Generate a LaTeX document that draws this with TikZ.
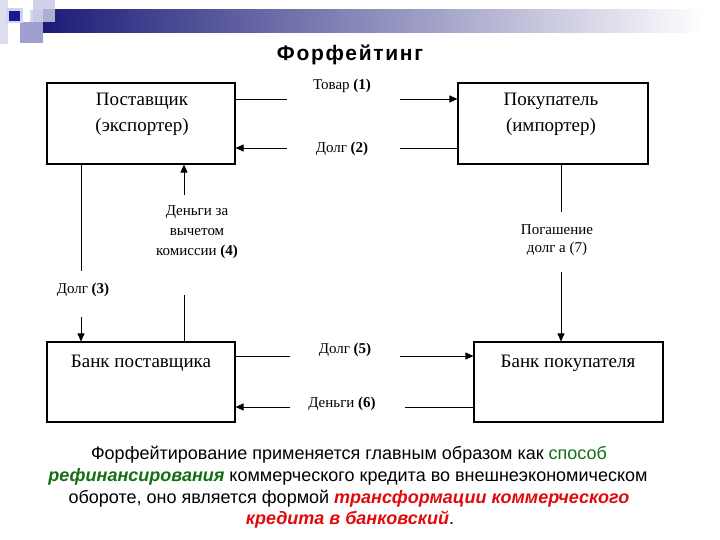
\documentclass[tikz,border=0pt]{standalone}
\usepackage{fontspec}
\setmainfont{Liberation Serif}
\newfontfamily\arialf{Liberation Sans}
\newfontfamily\arialt[LetterSpace=8]{Liberation Sans}
\usetikzlibrary{arrows.meta}
\definecolor{navy}{RGB}{28,28,120}
\definecolor{lav}{RGB}{200,200,230}
\definecolor{lavm}{RGB}{160,160,208}
\definecolor{darksq}{RGB}{25,25,150}
\definecolor{grn}{RGB}{20,110,20}
\definecolor{rd}{RGB}{225,10,10}
\tikzset{
  boxn/.style={draw=black, line width=1.1pt, inner sep=0pt},
  boxtxt/.style={font=\fontsize{19}{26}\selectfont, align=center, inner sep=0pt},
  lbl/.style={font=\fontsize{15}{20}\selectfont, align=center, inner sep=0pt},
  conn/.style={line width=0.9pt},
  arr/.style={line width=0.9pt, -{Triangle[length=8pt,width=7pt]}},
  body/.style={font=\arialf\fontsize{18}{20}\selectfont, inner sep=0pt, anchor=center},
}
\begin{document}
\begin{tikzpicture}[x=1pt,y=-1pt]
\useasboundingbox (0,0) rectangle (720,540);
% decoration
\fill[lav!60] (0,0) rectangle (8,44);
\fill[lav!70] (30,10) rectangle (44,22);
\shade[left color=navy, right color=white] (43,10) rectangle (705,33);
\fill[lav, opacity=0.85] (33,0) rectangle (55,22);
\fill[lavm] (20,22) rectangle (43,43);
\fill[lav!80] (6,8) rectangle (23,23);
\fill[darksq] (9,11) rectangle (20,21);
% title
\node[font=\arialt\bfseries\fontsize{21}{24}\selectfont, inner sep=0pt] (title) at (350,55) {Форфейтинг};
% boxes
\node[boxn, minimum width=188pt, minimum height=81pt] (sup) at (141,123.5) {};
\node[boxn, minimum width=190pt, minimum height=81pt] (buy) at (553,123.5) {};
\node[boxn, minimum width=188pt, minimum height=80pt] (bsup) at (141,382) {};
\node[boxn, minimum width=189pt, minimum height=80pt] (bbuy) at (568.5,382) {};
\node[boxtxt] (supt1) at (142,101) {Поставщик};
\node[boxtxt] (supt2) at (142,127) {(экспортер)};
\node[boxtxt] (buyt1) at (551,101) {Покупатель};
\node[boxtxt] (buyt2) at (551,127) {(импортер)};
\node[boxtxt] (bsupt) at (141,363) {Банк поставщика};
\node[boxtxt] (bbuyt) at (568,363) {Банк покупателя};
% labels
\node[lbl] (l1) at (342,86) {Товар \textbf{(1)}};
\node[lbl] (l2) at (342,149) {Долг \textbf{(2)}};
\node[lbl] (l3) at (83,290) {Долг \textbf{(3)}};
\node[lbl] (l4a) at (197,212) {Деньги за};
\node[lbl] (l4b) at (197,232) {вычетом};
\node[lbl] (l4c) at (197,252) {комиссии \textbf{(4)}};
\node[lbl] (l5) at (345,350) {Долг \textbf{(5)}};
\node[lbl] (l6) at (342,404) {Деньги \textbf{(6)}};
\node[lbl] (l7a) at (557,230) {Погашение};
\node[lbl] (l7b) at (557,249) {долг а (7)};
% connector gap coordinates
\coordinate (c1a) at (287,99);  \coordinate (c1b) at (400,99);
\coordinate (c2a) at (287,148); \coordinate (c2b) at (400,148);
\coordinate (c3a) at (81,271);  \coordinate (c3b) at (81,317);
\coordinate (c4a) at (184,195); \coordinate (c4b) at (184,295);
\coordinate (c7a) at (561,212); \coordinate (c7b) at (561,272);
\coordinate (c5a) at (290,356); \coordinate (c5b) at (400,356);
\coordinate (c6a) at (290,407); \coordinate (c6b) at (405,407);
% connectors
\draw[conn] (sup.east |- c1a) -- (c1a);
\draw[arr] (c1b) -- (buy.west |- c1b);
\draw[conn] (buy.west |- c2b) -- (c2b);
\draw[arr] (c2a) -- (sup.east |- c2a);
\draw[conn] (sup.south -| c3a) -- (c3a);
\draw[arr] (c3b) -- (bsup.north -| c3b);
\draw[arr] (c4a) -- (sup.south -| c4a);
\draw[conn] (bsup.north -| c4b) -- (c4b);
\draw[conn] (buy.south -| c7a) -- (c7a);
\draw[arr] (c7b) -- (bbuy.north -| c7b);
\draw[conn] (bsup.east |- c5a) -- (c5a);
\draw[arr] (c5b) -- (bbuy.west |- c5b);
\draw[conn] (bbuy.west |- c6b) -- (c6b);
\draw[arr] (c6a) -- (bsup.east |- c6a);
% body text
\node[body] (b1) at (349,455) {Форфейтирование применяется главным образом как \textcolor{grn}{способ}};
\node[body] (b2) at (348,477) {\textcolor{grn}{\bfseries\itshape рефинансирования} коммерческого кредита во внешнеэкономическом};
\node[body] (b3) at (349,498.5) {обороте, оно является формой \textcolor{rd}{\bfseries\itshape трансформации коммерческого}};
\node[body] (b4) at (350,520) {\textcolor{rd}{\bfseries\itshape кредита в банковский}.};
\end{tikzpicture}
\end{document}
